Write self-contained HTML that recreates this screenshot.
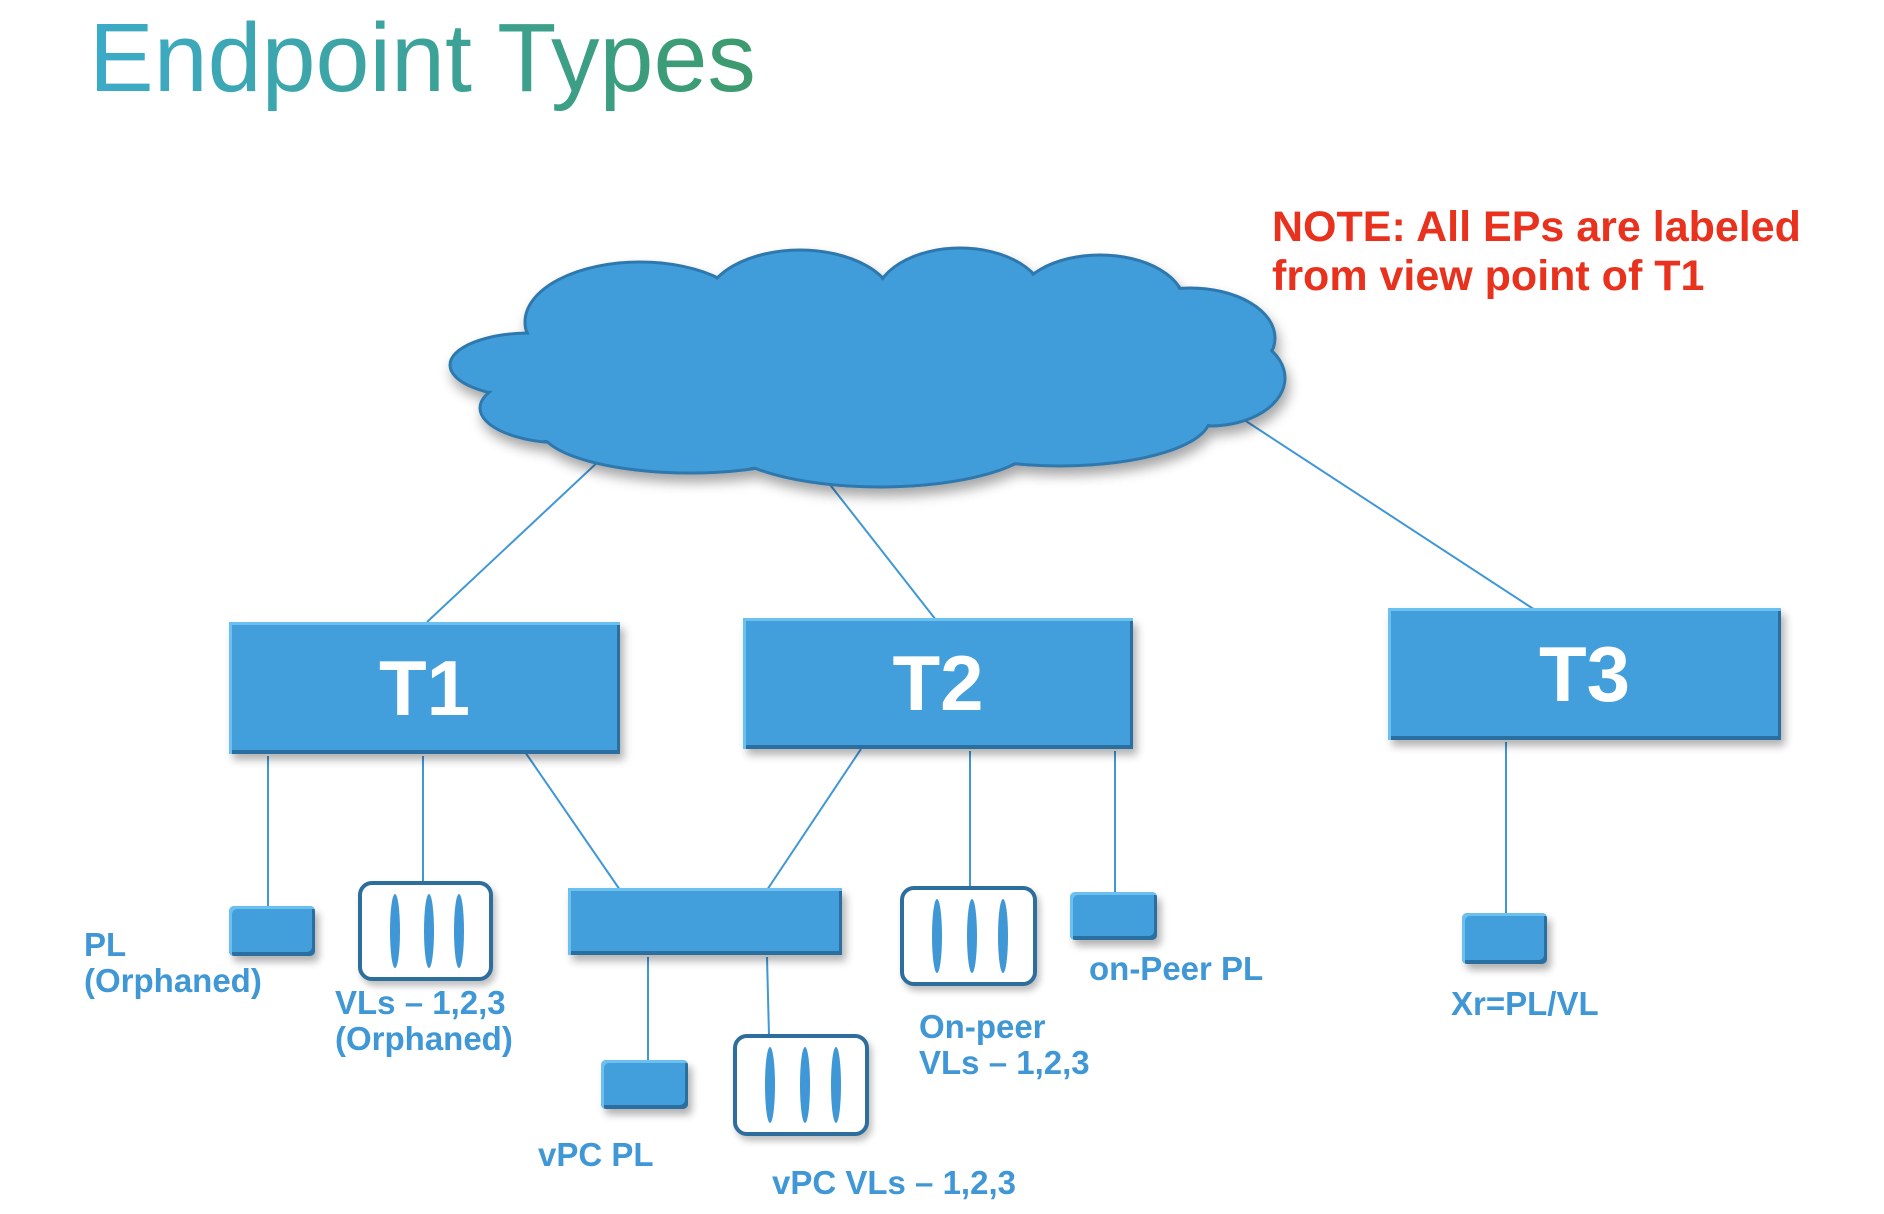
<!DOCTYPE html>
<html><head><meta charset="utf-8"><style>
body{margin:0;width:1884px;height:1214px;background:#fff;position:relative;overflow:hidden;font-family:"Liberation Sans",sans-serif}
.t{position:absolute;white-space:nowrap;font-weight:bold;color:#3f97d6;font-size:33px;line-height:1}
.box{position:absolute;background:#429fdc;box-shadow:inset 3px 3px 0 #6cc0f0,inset -3px -4px 0 #2a6f9f,4px 6px 8px rgba(0,0,0,.3)}
.vl{position:absolute;border:4px solid #2d6e9c;border-radius:14px;background:#fff;box-shadow:3px 5px 7px rgba(0,0,0,.25);box-sizing:border-box}
.vl i{position:absolute;top:10%;height:80%;width:10px;background:#3f97d6;border-radius:50%}
.big{color:#fff;font-size:78px;text-align:center;font-weight:bold;display:flex;align-items:center;justify-content:center}
</style></head><body>
<div style="position:absolute;left:89px;top:2px;font-size:97px;line-height:1.15;background:linear-gradient(90deg,#3cabc8,#3c9a6c);-webkit-background-clip:text;background-clip:text;color:transparent">Endpoint Types</div>
<div class="t" style="left:1272px;top:203px;color:#e8321e;font-size:43px;line-height:49px">NOTE: All EPs are labeled<br>from view point of T1</div>
<svg width="1884" height="1214" style="position:absolute;left:0;top:0">
<defs><filter id="sh" x="-10%" y="-10%" width="130%" height="140%"><feDropShadow dx="3" dy="8" stdDeviation="6" flood-opacity=".35"/></filter></defs>
<g stroke="#3f97d6" stroke-width="2">
<line x1="601" y1="459" x2="427" y2="622"/><line x1="824" y1="477" x2="936" y2="620"/><line x1="1226" y1="408" x2="1535" y2="610"/>
<line x1="268" y1="756" x2="268" y2="908"/><line x1="423" y1="756" x2="423" y2="883"/><line x1="523" y1="749" x2="620" y2="890"/>
<line x1="861" y1="749" x2="767" y2="890"/><line x1="970" y1="751" x2="970" y2="888"/><line x1="1115" y1="751" x2="1115" y2="894"/>
<line x1="1506" y1="742" x2="1506" y2="915"/><line x1="648" y1="957" x2="648" y2="1063"/><line x1="767" y1="957" x2="769" y2="1036"/>
</g>
<g fill="#419dd9" stroke="#2e78ad" stroke-width="3" filter="url(#sh)">
<ellipse cx="640" cy="322" rx="115" ry="60"/><ellipse cx="800" cy="305" rx="95" ry="55"/><ellipse cx="960" cy="300" rx="85" ry="52"/><ellipse cx="1100" cy="305" rx="85" ry="50"/>
<ellipse cx="1190" cy="338" rx="85" ry="50"/><ellipse cx="1210" cy="378" rx="75" ry="48"/>
<ellipse cx="530" cy="365" rx="80" ry="32"/><ellipse cx="565" cy="408" rx="85" ry="35"/>
<ellipse cx="690" cy="428" rx="150" ry="45"/><ellipse cx="880" cy="437" rx="160" ry="50"/><ellipse cx="1060" cy="418" rx="150" ry="48"/>
</g>
<g fill="#419dd9">
<ellipse cx="640" cy="322" rx="113" ry="58"/><ellipse cx="800" cy="305" rx="93" ry="53"/><ellipse cx="960" cy="300" rx="83" ry="50"/><ellipse cx="1100" cy="305" rx="83" ry="48"/>
<ellipse cx="1190" cy="338" rx="83" ry="48"/><ellipse cx="1210" cy="378" rx="73" ry="46"/>
<ellipse cx="530" cy="365" rx="78" ry="30"/><ellipse cx="565" cy="408" rx="83" ry="33"/>
<ellipse cx="690" cy="428" rx="148" ry="43"/><ellipse cx="880" cy="437" rx="158" ry="48"/><ellipse cx="1060" cy="418" rx="148" ry="46"/>
<ellipse cx="870" cy="375" rx="360" ry="80"/>
</g>
</svg>
<div class="box big" style="left:229px;top:622px;width:391px;height:132px">T1</div>
<div class="box big" style="left:743px;top:618px;width:390px;height:131px">T2</div>
<div class="box big" style="left:1388px;top:608px;width:393px;height:132px">T3</div>
<div class="box" style="left:229px;top:906px;width:86px;height:50px;border-radius:5px"></div>
<div class="box" style="left:568px;top:888px;width:274px;height:67px"></div>
<div class="box" style="left:1070px;top:892px;width:87px;height:48px;border-radius:5px"></div>
<div class="box" style="left:1462px;top:913px;width:85px;height:51px;border-radius:5px"></div>
<div class="box" style="left:601px;top:1060px;width:87px;height:49px;border-radius:5px"></div>
<div class="vl" style="left:358px;top:881px;width:135px;height:100px"><i style="left:28px"></i><i style="left:62px"></i><i style="left:92px"></i></div>
<div class="vl" style="left:900px;top:886px;width:137px;height:100px"><i style="left:28px"></i><i style="left:63px"></i><i style="left:94px"></i></div>
<div class="vl" style="left:733px;top:1034px;width:136px;height:102px"><i style="left:28px"></i><i style="left:63px"></i><i style="left:94px"></i></div>
<div class="t" style="left:84px;top:927px;line-height:36px">PL<br>(Orphaned)</div>
<div class="t" style="left:335px;top:985px;line-height:36px">VLs – 1,2,3<br>(Orphaned)</div>
<div class="t" style="left:919px;top:1009px;line-height:36px">On-peer<br>VLs – 1,2,3</div>
<div class="t" style="left:1089px;top:952px">on-Peer PL</div>
<div class="t" style="left:1451px;top:987px">Xr=PL/VL</div>
<div class="t" style="left:538px;top:1138px">vPC PL</div>
<div class="t" style="left:772px;top:1166px">vPC VLs – 1,2,3</div>
</body></html>
